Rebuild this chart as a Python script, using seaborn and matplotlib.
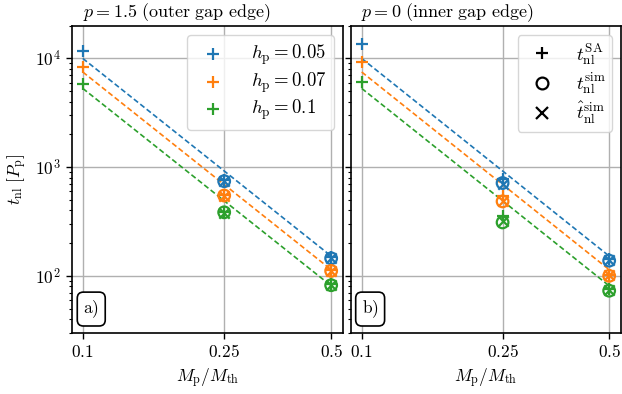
import numpy as np
import pandas as pd
import matplotlib
matplotlib.use("Agg")
import matplotlib.pyplot as plt
import matplotlib.ticker as mticker
from matplotlib.lines import Line2D
import seaborn as sns

plt.rcParams['mathtext.fontset'] = 'cm'
plt.rcParams['font.family'] = ['DejaVu Serif']

# ---------------- data ----------------
h_labels = [r"$h_\mathrm{p}=0.05$", r"$h_\mathrm{p}=0.07$", r"$h_\mathrm{p}=0.1$"]
colors = ["#1f77b4", "#ff7f0e", "#2ca02c"]

x_sa = [0.1, 0.25, 0.5]
x_sim = [0.25, 0.5]
x_fit = [0.1, 0.5]

# panel a) p = 1.5 (outer gap edge)
sa_outer = [[11800, 760, 148], [8380, 550, 112], [5800, 390, 84]]
sim_outer = [[743, 145], [548, 111], [384, 82]]
hat_outer = [[745, 146], [545, 110], [380, 83]]
fit_outer = [[10000, 152], [7500, 114], [5300, 81]]

# panel b) p = 0 (inner gap edge)
sa_inner = [[13600, 770, 142], [9200, 540, 101], [6100, 354, 75]]
sim_inner = [[714, 138], [484, 100], [310, 73]]
hat_inner = [[705, 140], [490, 101], [318, 74]]
fit_inner = [[10000, 152], [7500, 114], [5300, 81]]

titles = [r"$p=1.5\ \mathrm{(outer\ gap\ edge)}$", r"$p=0\ \mathrm{(inner\ gap\ edge)}$"]
panel_tags = [r"$\mathrm{a)}$", r"$\mathrm{b)}$"]
xticks = [0.1, 0.25, 0.5]
xticklabels = [r"$0.1$", r"$0.25$", r"$0.5$"]
yticks = [1e2, 1e3, 1e4]

# ---------------- figure ----------------
fig = plt.figure(figsize=(6.22, 3.94), dpi=100)
axL = fig.add_axes([0.1153, 0.1556, 0.4362, 0.7792])
axR = fig.add_axes([0.5638, 0.1556, 0.4346, 0.7792], sharey=axL)

panels = [
    (axL, sa_outer, sim_outer, hat_outer, fit_outer),
    (axR, sa_inner, sim_inner, hat_inner, fit_inner),
]

ms = 70
for k, (ax, sa, sim, hat, fit) in enumerate(panels):
    ax.set_xscale('log')
    ax.set_yscale('log')
    for i in range(3):
        c = colors[i]
        df_fit = pd.DataFrame({'x': x_fit, 'y': fit[i]})
        sns.lineplot(data=df_fit, x='x', y='y', ax=ax, color=c, lw=1.2,
                     linestyle=(0, (3.2, 1.7)), zorder=2)
        sns.scatterplot(x=x_sa, y=sa[i], ax=ax, marker='+', s=ms * 1.1,
                        color=c, linewidth=1.6, zorder=3,
                        label=h_labels[i] if k == 0 else None)
        sns.scatterplot(x=x_sim, y=sim[i], ax=ax, marker='o', s=ms,
                        facecolor='none', edgecolor=c, linewidth=1.6, zorder=3)
        sns.scatterplot(x=x_sim, y=hat[i], ax=ax, marker='x', s=ms * 0.8,
                        color=c, linewidth=1.6, zorder=3)

    ax.set_xlim(0.0931, 0.54)
    ax.set_ylim(30, 2.0e4)
    ax.xaxis.set_major_locator(mticker.FixedLocator(xticks))
    ax.xaxis.set_major_formatter(mticker.FixedFormatter(xticklabels))
    ax.xaxis.set_minor_locator(mticker.NullLocator())
    ax.yaxis.set_major_locator(mticker.FixedLocator(yticks))
    ax.yaxis.set_major_formatter(mticker.FuncFormatter(
        lambda v, p: r"$10^{%d}$" % int(round(np.log10(v)))))
    ax.yaxis.set_minor_locator(mticker.LogLocator(base=10, subs=np.arange(2, 10)))
    ax.yaxis.set_minor_formatter(mticker.NullFormatter())
    ax.grid(True, which='major', color='#b0b0b0', lw=1.0, zorder=0)
    ax.set_axisbelow(True)
    ax.tick_params(which='major', length=4.5, width=1.0, labelsize=12.5)
    ax.tick_params(which='minor', length=2.5, width=0.8)
    for s in ax.spines.values():
        s.set_linewidth(1.2)
    ax.set_xlabel(r"$M_\mathrm{p}/M_\mathrm{th}$", fontsize=12.5)
    ax.text(0.04, 1.027, titles[k], transform=ax.transAxes, fontsize=13,
            ha='left', va='baseline')
    ax.text(0.072, 0.077, panel_tags[k], transform=ax.transAxes, fontsize=12.5,
            ha='center', va='center',
            bbox=dict(boxstyle='round,pad=0.35', fc='white', ec='black', lw=1.2))

axL.set_ylabel(r"$t_\mathrm{nl}\ [P_\mathrm{p}]$", fontsize=12.5)
axR.set_ylabel("")
plt.setp(axR.get_yticklabels(), visible=False)

# legends
legL = axL.legend(loc='upper right', fontsize=13.5, handletextpad=1.0,
                  handlelength=2.0, borderpad=0.4, labelspacing=0.18,
                  borderaxespad=0.5, framealpha=0.8, edgecolor='#cccccc')

proxies = [
    Line2D([], [], ls='', marker='+', color='k', ms=9, mew=1.6),
    Line2D([], [], ls='', marker='o', mfc='none', mec='k', ms=8.5, mew=1.6),
    Line2D([], [], ls='', marker='x', color='k', ms=8, mew=1.6),
]
plabels = [r"$t_\mathrm{nl}^\mathrm{SA}$", r"$t_\mathrm{nl}^\mathrm{sim}$",
           r"$\hat{t}_\mathrm{nl}^\mathrm{sim}$"]
axR.legend(proxies, plabels, loc='upper right', fontsize=13.5, handletextpad=0.8,
           handlelength=2.0, borderpad=0.3, labelspacing=0.2,
           borderaxespad=0.5, framealpha=0.8, edgecolor='#cccccc')

fig.savefig("out.png", dpi=100)
